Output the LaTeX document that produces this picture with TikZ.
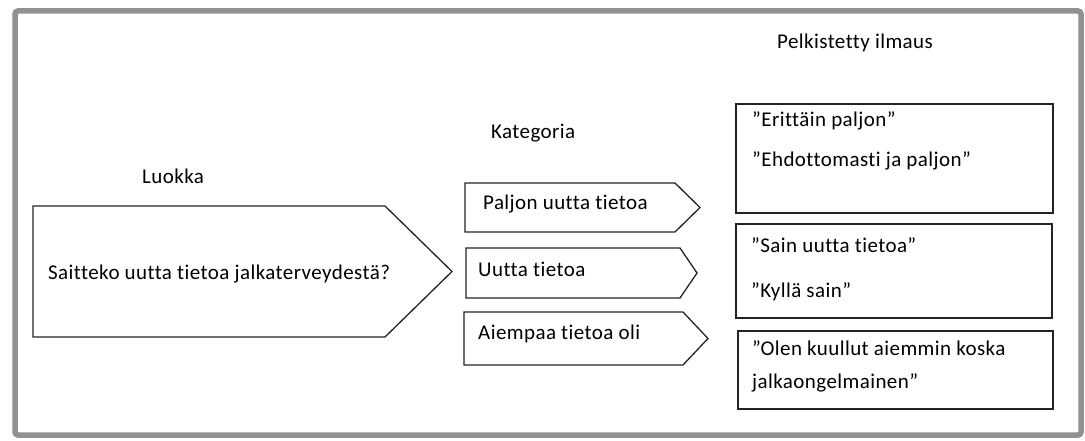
\documentclass[tikz,border=0pt]{standalone}
\usepackage{fontspec}
\setmainfont[LetterSpace=2,Ligatures={NoCommon}]{Carlito}
\usetikzlibrary{positioning}
\definecolor{FrameGray}{RGB}{145,145,145}
\definecolor{LineBlack}{RGB}{35,35,35}
\newcommand{\tagshape}[5]{%
  \draw[outl] (#1,#2)--(#3,#2)--(#4,{(#2+#5)/2})--(#3,#5)--(#1,#5)--cycle;}

\begin{document}
\begin{tikzpicture}[x=1pt,y=-1pt,
  outl/.style={draw=LineBlack,line width=1.3pt},
  txt/.style={font=\fontsize{21}{33}\selectfont,inner sep=0pt,anchor=base west}]
  \useasboundingbox (0,0) rectangle (1085,441);
  \draw[FrameGray,line width=5.5pt,rounded corners=3pt] (15,11) rectangle (1081,435);
  % headings
  \node[txt] (luokka) at (142,183) {Luokka};
  \node[txt] (kategoria) at (491,139) {Kategoria};
  \node[txt] (ilmaus) at (777,49) {Pelkistetty ilmaus};
  % class
  \tagshape{33}{206}{385}{452}{337}
  \node[txt] (kysymys) at (48,279) {Saitteko uutta tietoa jalkaterveydestä?};
  % categories
  \tagshape{465}{183}{675}{700}{232}
  \tagshape{466}{248}{680}{697}{298}
  \tagshape{464}{312}{683}{708}{365}
  \node[txt] (paljon) at (483,210) {Paljon uutta tietoa};
  \node[txt] (uutta) at (478,276) {Uutta tietoa};
  \node[txt] (aiempaa) at (478,339) {Aiempaa tietoa oli};
  % reduced expressions
  \draw[outl] (736,104) rectangle (1053,213);
  \draw[outl] (736,224) rectangle (1052,318);
  \draw[outl] (738,331) rectangle (1053,409);
  \node[txt] (erittain) at (752,127) {”Erittäin paljon”};
  \node[txt] (ehdottomasti) at (752,167) {”Ehdottomasti ja paljon”};
  \node[txt] (sain) at (751,252) {”Sain uutta tietoa”};
  \node[txt] (kylla) at (751,297) {”Kyllä sain”};
  \node[txt,align=left] (kuullut) at (752,388) {”Olen kuullut aiemmin koska\\jalkaongelmainen”};
\end{tikzpicture}
\end{document}
